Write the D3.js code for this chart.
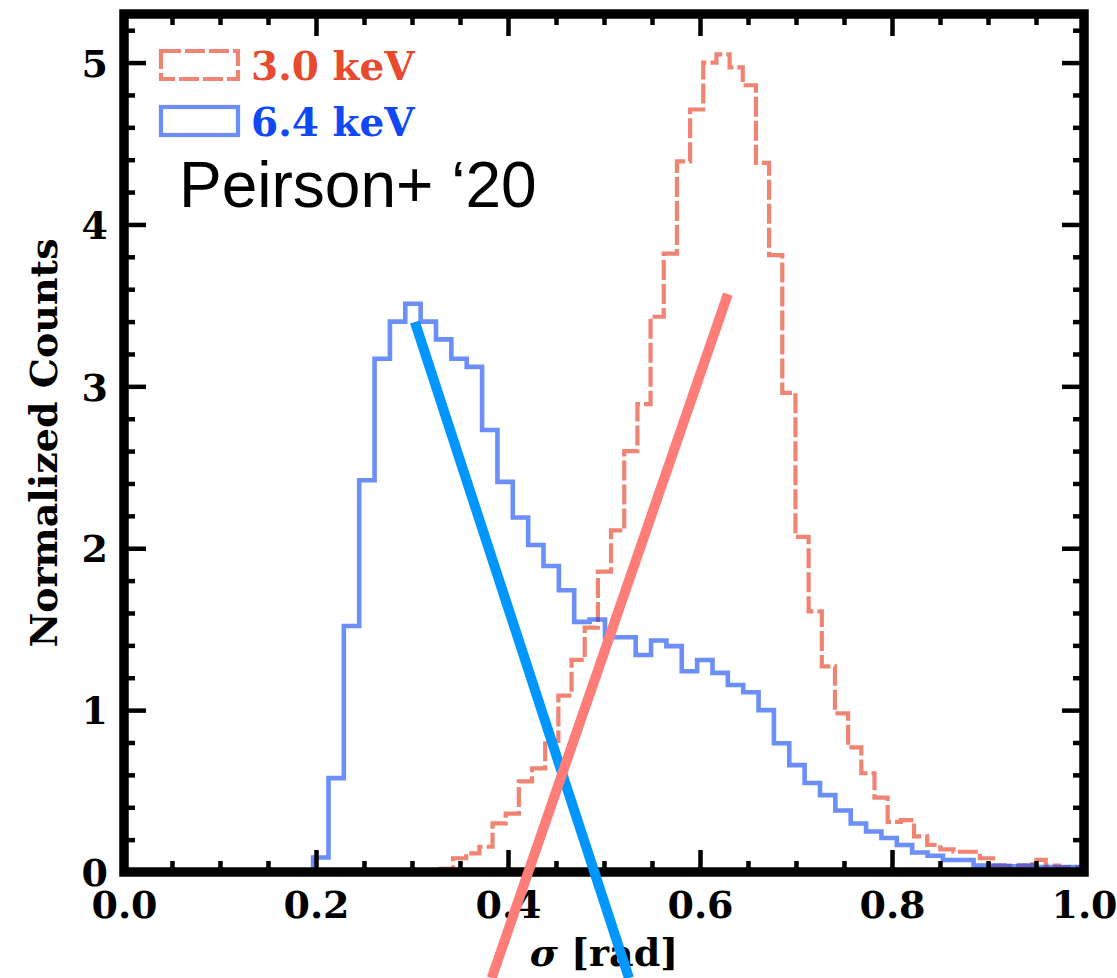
<!DOCTYPE html>
<html>
<head>
<meta charset="utf-8">
<script src="https://cdn.jsdelivr.net/npm/d3@7"></script>
<style>
  html, body { margin: 0; padding: 0; background: #ffffff; }
  svg { display: block; }
</style>
</head>
<body>
<svg id="chart" width="1117" height="978"></svg>
<script>
// ---------------- data ----------------
const xDomain = [0, 1.0];
const yDomain = [0, 5.3];
const xTickValues = [0.0, 0.2, 0.4, 0.6, 0.8, 1.0];
const xTickLabels = ["0.0", "0.2", "0.4", "0.6", "0.8", "1.0"];
const yTickValues = [0, 1, 2, 3, 4, 5];
const yTickLabels = ["0", "1", "2", "3", "4", "5"];

// 6.4 keV histogram (solid blue): bins start at blueStart, width blueWidth
const blueStart = 0.197;
const blueWidth = 0.016;
const blueCounts = [
  0.09, 0.58, 1.52, 2.42, 3.17, 3.40, 3.51, 3.40, 3.29, 3.17,
  3.12, 2.73, 2.41, 2.19, 2.02, 1.89, 1.74, 1.545, 1.56, 1.45,
  1.45, 1.34, 1.43, 1.395, 1.24, 1.31, 1.23, 1.155, 1.11, 1.00,
  0.795, 0.66, 0.55, 0.475, 0.38, 0.30, 0.25, 0.21, 0.167, 0.12,
  0.10, 0.074, 0.074, 0.04, 0.04, 0.035, 0.04, 0.03, 0.03, 0.03
];

// 3.0 keV histogram (dashed red)
const redStart = 0.329;
const redWidth = 0.01372;
const redCounts = [
  0.02, 0.085, 0.115, 0.156, 0.30, 0.36, 0.56, 0.64, 0.81, 1.09,
  1.31, 1.51, 1.855, 2.11, 2.60, 2.89, 3.43, 3.82, 4.39, 4.71,
  5.00, 5.05, 4.97, 4.86, 4.38, 3.81, 2.96, 2.07, 1.61, 1.27,
  0.98, 0.77, 0.61, 0.46, 0.31, 0.32, 0.22, 0.167, 0.14, 0.125,
  0.125, 0.085, 0.04, 0.04, 0.04, 0.075, 0.04, 0.03, 0.03
];

// annotation strokes (data coordinates: [sigma, counts])
const blueStroke = [[0.303, 3.397], [0.526, -0.655]];
const redStroke  = [[0.629, 3.570], [0.383, -0.655]];

const legendLabels = ["3.0 keV", "6.4 keV"];
const annotationText = "Peirson+ \u201820";
const yLabel = "Normalized Counts";

// ---------------- layout ----------------
const svg = d3.select("#chart");
const plot = { left: 124, right: 1084, top: 14, bottom: 872 };
const x = d3.scaleLinear().domain(xDomain).range([plot.left, plot.right]);
const y = d3.scaleLinear().domain(yDomain).range([plot.bottom, plot.top]);

const serif = "'DejaVu Serif', serif";
const redBase = "#e84a30", blueBase = "#1048f5";

svg.append("rect").attr("width", 1117).attr("height", 978).attr("fill", "#fff");

svg.append("defs").append("clipPath").attr("id", "clip")
  .append("rect").attr("x", plot.left).attr("y", plot.top)
  .attr("width", plot.right - plot.left).attr("height", plot.bottom - plot.top);

function histPoints(start, width, counts) {
  const pts = [[start, 0]];
  counts.forEach((c, i) => pts.push([start + i * width, c]));
  const end = start + counts.length * width;
  pts.push([end, counts[counts.length - 1]]);
  pts.push([end, 0]);
  return pts;
}
const stepLine = d3.line().x(d => x(d[0])).y(d => y(d[1])).curve(d3.curveStepAfter);

const g = svg.append("g").attr("clip-path", "url(#clip)");
g.append("path")
  .attr("d", stepLine(histPoints(redStart, redWidth, redCounts)))
  .attr("fill", "none").attr("stroke", redBase).attr("stroke-opacity", 0.68)
  .attr("stroke-width", 4.2).attr("stroke-dasharray", "20,4");
g.append("path")
  .attr("d", stepLine(histPoints(blueStart, blueWidth, blueCounts)))
  .attr("fill", "none").attr("stroke", blueBase).attr("stroke-opacity", 0.62)
  .attr("stroke-width", 4.6);

// ---------------- axes ----------------
const minorX = d3.range(0, 1.0001, 0.05).filter(v => Math.abs(v * 5 - Math.round(v * 5)) > 1e-6);
const minorY = d3.range(0, 5.3, 0.2).filter(v => Math.abs(v - Math.round(v)) > 1e-6);

function drawAxis(axisGen, transform) {
  const a = svg.append("g").attr("transform", transform).call(axisGen);
  a.select(".domain").remove();
  a.selectAll(".tick line").attr("stroke", "#000").attr("stroke-width", 4.5);
  return a;
}
const MAJ = 22, MIN = 11;
// bottom (inward ticks, labels)
const bx = drawAxis(d3.axisBottom(x).tickValues(xTickValues).tickSize(-MAJ).tickPadding(0)
  .tickFormat((d, i) => xTickLabels[i]), `translate(0,${plot.bottom})`);
bx.selectAll(".tick text").attr("y", 46).attr("dy", null)
  .attr("font-family", serif).attr("font-weight", "bold").attr("font-size", 38).attr("fill", "#000");
drawAxis(d3.axisBottom(x).tickValues(minorX).tickSize(-MIN).tickFormat(""), `translate(0,${plot.bottom})`);
// top
drawAxis(d3.axisTop(x).tickValues(xTickValues).tickSize(-MAJ).tickFormat(""), `translate(0,${plot.top})`);
drawAxis(d3.axisTop(x).tickValues(minorX).tickSize(-MIN).tickFormat(""), `translate(0,${plot.top})`);
// left (labels)
const ly = drawAxis(d3.axisLeft(y).tickValues(yTickValues).tickSize(-MAJ).tickPadding(0)
  .tickFormat((d, i) => yTickLabels[i]), `translate(${plot.left},0)`);
ly.selectAll(".tick text").attr("x", -16).attr("dy", "0.36em")
  .attr("font-family", serif).attr("font-weight", "bold").attr("font-size", 38).attr("fill", "#000");
drawAxis(d3.axisLeft(y).tickValues(minorY).tickSize(-MIN).tickFormat(""), `translate(${plot.left},0)`);
// right
drawAxis(d3.axisRight(y).tickValues(yTickValues).tickSize(-MAJ).tickFormat(""), `translate(${plot.right},0)`);
drawAxis(d3.axisRight(y).tickValues(minorY).tickSize(-MIN).tickFormat(""), `translate(${plot.right},0)`);

// spines
svg.append("rect").attr("x", plot.left).attr("y", plot.top)
  .attr("width", plot.right - plot.left).attr("height", plot.bottom - plot.top)
  .attr("fill", "none").attr("stroke", "#000").attr("stroke-width", 9.5);

// axis labels
svg.append("text").attr("transform", `translate(57,${(plot.top + plot.bottom) / 2}) rotate(-90)`)
  .attr("text-anchor", "middle").attr("font-family", serif).attr("font-weight", "bold")
  .attr("font-size", 38).attr("fill", "#000").text(yLabel);
const xl = svg.append("text").attr("x", (plot.left + plot.right) / 2).attr("y", 966)
  .attr("text-anchor", "middle").attr("font-family", serif).attr("font-weight", "bold")
  .attr("font-size", 38).attr("fill", "#000");
xl.append("tspan").attr("font-style", "italic").text("\u03c3");
xl.append("tspan").text(" [rad]");

// legend
const legend = svg.append("g");
const legendItems = [
  { label: legendLabels[0], color: redBase, opacity: 0.68, dash: "20,4", y0: 51 },
  { label: legendLabels[1], color: blueBase, opacity: 0.62, dash: null, y0: 107 }
];
legendItems.forEach(it => {
  legend.append("rect").attr("x", 161).attr("y", it.y0).attr("width", 77).attr("height", 28)
    .attr("fill", "none").attr("stroke", it.color).attr("stroke-opacity", it.opacity)
    .attr("stroke-width", 4.2).attr("stroke-dasharray", it.dash);
  legend.append("text").attr("x", 251).attr("y", it.y0 + 29)
    .attr("font-family", serif).attr("font-weight", "bold").attr("font-size", 39)
    .attr("fill", it.color).text(it.label);
});

svg.append("text").attr("x", 179).attr("y", 207)
  .attr("font-family", "'Liberation Sans', Arial, sans-serif").attr("font-size", 64)
  .attr("fill", "#000").text(annotationText);

// annotation strokes
const straight = d3.line().x(d => x(d[0])).y(d => y(d[1]));
svg.append("path").attr("d", straight(blueStroke)).attr("stroke", "#0096ff")
  .attr("stroke-width", 10).attr("fill", "none");
svg.append("path").attr("d", straight(redStroke)).attr("stroke", "#ff7d78")
  .attr("stroke-width", 10).attr("fill", "none");
</script>
</body>
</html>
